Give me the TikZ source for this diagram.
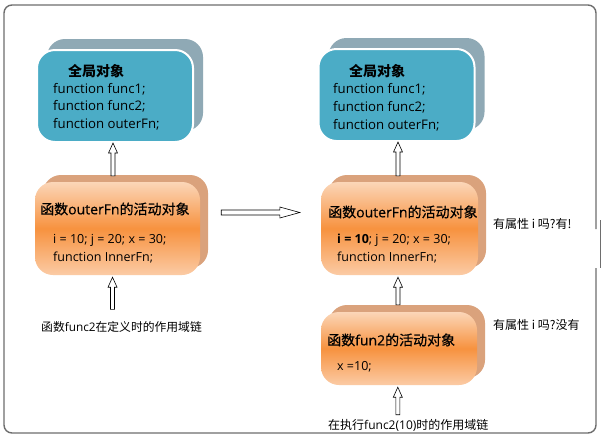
\documentclass[tikz,border=0pt]{standalone}
\usepackage{fontspec}
\setmainfont{Open Sans}
\newfontfamily\cjk{Noto Sans CJK SC}
\newfontfamily\cjkm{Noto Sans CJK SC}[FakeBold=0.5]
\newfontfamily\latm{Open Sans}[FakeBold=0.5]
\usetikzlibrary{arrows.meta,shadows,calc}
\definecolor{bluebody}{HTML}{4BACC6}
\definecolor{blueshadow}{HTML}{8FA9B5}
\definecolor{orshadow}{HTML}{DAA27C}
\definecolor{ortop}{HTML}{FBD6B8}
\definecolor{ormid}{HTML}{F7923F}
\definecolor{orbot}{HTML}{FBCBA5}
\definecolor{framegray}{HTML}{6E6E6E}
\tikzset{
  globalbox/.style={rounded corners=18pt, fill=bluebody, draw=white, line width=2pt,
    minimum width=156pt, minimum height=92pt, inner sep=0pt,
    drop shadow={shadow xshift=10pt, shadow yshift=11pt, fill=blueshadow, opacity=1}},
  actbox/.style={rounded corners=18pt, top color=ortop, bottom color=orbot, middle color=ormid,
    draw=none, inner sep=0pt,
    drop shadow={shadow xshift=8pt, shadow yshift=7pt, fill=orshadow, opacity=1}},
  txt/.style={anchor=west, inner sep=0pt, font=\fontsize{12.5}{14}\selectfont},
  gtxt/.style={anchor=west, inner sep=0pt, font=\fontsize{13.2}{15}\selectfont},
  gtitle/.style={anchor=west, inner sep=0pt, font=\cjk\bfseries\fontsize{14}{16}\selectfont},
  atitle/.style={anchor=west, inner sep=0pt, font=\fontsize{14}{16}\selectfont},
  label/.style={anchor=west, inner sep=0pt, font=\cjk\fontsize{12}{14}\selectfont},
  uparrow/.style={draw=black, fill=white, line width=0.6pt, line join=miter,
    to path={let \p1=(\tikztostart), \p2=(\tikztotarget) in
      (\x1-2pt,\y1) -- (\x1-2pt,\y2-10pt) -- (\x1-4.5pt,\y2-10pt) -- (\x1,\y2)
      -- (\x1+4.5pt,\y2-10pt) -- (\x1+2pt,\y2-10pt) -- (\x1+2pt,\y1) -- cycle}},
  rightarrow/.style={draw=black, fill=white, line width=0.6pt, line join=miter,
    to path={let \p1=(\tikztostart), \p2=(\tikztotarget) in
      (\x1,\y1+2.5pt) -- (\x2-20pt,\y1+2.5pt) -- (\x2-20pt,\y1+5.5pt) -- (\x2,\y1)
      -- (\x2-20pt,\y1-5.5pt) -- (\x2-20pt,\y1-2.5pt) -- (\x1,\y1-2.5pt) -- cycle}},
  frame/.style={draw=framegray, line width=1.4pt}
}
\begin{document}
\begin{tikzpicture}[x=1pt,y=-1pt]
\useasboundingbox (0,0) rectangle (602,440);
\fill[white] (0,0) rectangle (602,440);
% frame
\draw[frame, rounded corners=8pt] (596,229) -- (596,5) -- (4,5) -- (4,433) -- (596,433) -- (596,268);
\draw[frame] (600.5,220) -- (600.5,268);

% left column
\node[globalbox] (g1) at (115,96) {};
\node[gtitle] (g1t) at (68,71) {全局对象};
\node[gtxt] (g1a) at (53,89) {function func1;};
\node[gtxt] (g1b) at (53,106) {function func2;};
\node[gtxt] (g1c) at (53,124) {function outerFn;};

\node[actbox, minimum width=165pt, minimum height=93pt] (o1) at (117.5,228.5) {};
\node[atitle] (o1t) at (40,209) {{\cjkm 函数}{\latm outerFn}{\cjkm 的活动对象}};
\node[txt] (o1a) at (53,240) {i = 10; j = 20; x = 30;};
\node[txt] (o1b) at (53,257.5) {function InnerFn;};

\node[anchor=west, inner sep=0pt, font=\fontsize{11.8}{13}\selectfont] (t1) at (41,327) {{\cjk 函数}func2{\cjk 在定义时的作用域链}};

% right column
\node[globalbox] (g2) at (396.5,95) {};
\node[gtitle] (g2t) at (349,71) {全局对象};
\node[gtxt] (g2a) at (333,89.5) {function func1;};
\node[gtxt] (g2b) at (333,107) {function func2;};
\node[gtxt] (g2c) at (333,125) {function outerFn;};

\node[actbox, minimum width=157pt, minimum height=93pt] (o2) at (399.5,228.5) {};
\node[atitle] (o2t) at (328,212) {{\cjkm 函数}{\latm outerFn}{\cjkm 的活动对象}};
\node[txt] (o2a) at (337,240) {\textbf{i = 10}; j = 20; x = 30;};
\node[txt] (o2b) at (337,257.5) {function InnerFn;};
\node[label] (l1) at (493,224) {有属性 i 吗?有!};

\node[actbox, minimum width=156pt, minimum height=73pt] (f2) at (399,348.5) {};
\node[atitle] (f2t) at (327,340) {{\cjkm 函数}{\latm fun2}{\cjkm 的活动对象}};
\node[txt] (f2a) at (337,367) {x =10;};
\node[label] (l2) at (493,325) {有属性 i 吗?没有};

\node[anchor=west, inner sep=0pt, font=\fontsize{12}{14}\selectfont] (t2) at (328,425) {{\cjk 在执行}func2(10){\cjk 时的作用域链}};

% arrows
\draw[uparrow] ([xshift=-4.5pt,yshift=6pt]o1.north) to ([xshift=-2pt]g1.south);
\draw[uparrow] ([xshift=-9pt,yshift=12pt]t1.north) to ([xshift=-4.5pt,yshift=-2pt]o1.south);
\draw[rightarrow] ([xshift=21pt,yshift=16pt]o1.east) to ([xshift=-21pt,yshift=16pt]o2.west);
\draw[uparrow] ([xshift=-1.5pt,yshift=6pt]o2.north) to ([xshift=1.5pt]g2.south);
\draw[uparrow] ([xshift=-1pt,yshift=7pt]f2.north) to ([xshift=-1.5pt,yshift=-2pt]o2.south);
\draw[uparrow] ([xshift=-10.5pt,yshift=4pt]t2.north) to ([xshift=-1pt,yshift=-2pt]f2.south);
\end{tikzpicture}
\end{document}
